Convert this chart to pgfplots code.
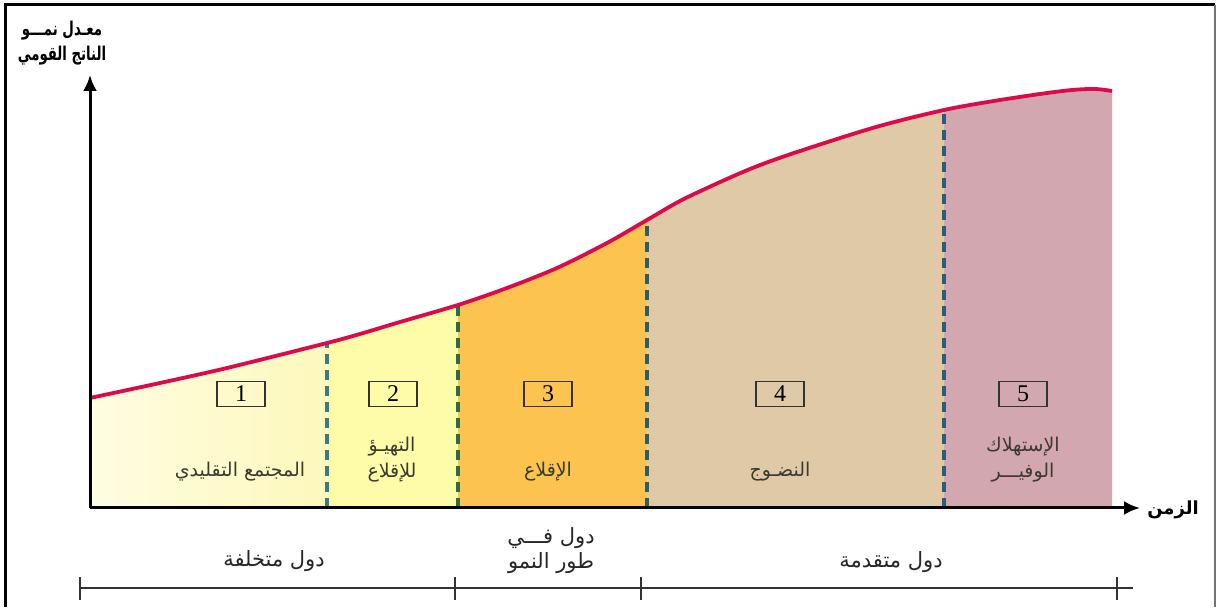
\documentclass[border=0pt]{standalone}
\usepackage{graphicx}
\usepackage{pgfplots}
\pgfplotsset{compat=1.18}
\usepackage{pgfplotstable}
\usepgfplotslibrary{fillbetween}
\usetikzlibrary{arrows.meta}
\usepackage{fontspec}
\setmainfont{Liberation Serif}
\newfontfamily\arabicfont[Script=Arabic]{DejaVu Sans}
\TeXXeTstate=1

\definecolor{stageA1}{HTML}{FFFDE2}
\definecolor{stageA2}{HTML}{FDF8BC}
\definecolor{stageB}{HTML}{FEFCA8}
\definecolor{stageC}{HTML}{FCC34E}
\definecolor{stageD}{HTML}{DFC9A6}
\definecolor{stageE}{HTML}{D2A7B0}
\definecolor{curvecol}{HTML}{DC0A4A}
\definecolor{dashA}{HTML}{3A7A86}
\definecolor{dashB}{HTML}{2E6B3E}
\definecolor{dashC}{HTML}{2E5E62}
\definecolor{dashD}{HTML}{2F5A80}
\definecolor{labeltext}{HTML}{3A3A2E}

% growth of national product over time (Rostow stages)
\pgfplotstableread{
t g
0 110
70 125
137 140
237 165
270 174
310 186
368 203
417 220
467 240
517 265
557 288
590 307
628 325
665 341
707 356
786 381
854 398
904 407
950 414
982 418
1005 419
1022 417
}\growth

\tikzset{stagebox/.style={draw=black!80, line width=0.9pt, minimum width=24pt,
  minimum height=12.5pt, inner sep=0pt, font=\fontsize{12}{12}\selectfont}}

\begin{document}
\begin{tikzpicture}
\begin{axis}[x=0.5pt, y=0.5pt, xmin=-90, xmax=1127, ymin=-99, ymax=508,
  hide axis, clip=false]
  \addplot[draw=none, name path=base, forget plot] coordinates {(0,0) (1022,0)};
  \addplot[draw=none, smooth, name path=curve, forget plot] table[x=t, y=g] {\growth};

  % stage areas
  \addplot[left color=stageA1, right color=stageA2, draw=none] fill between[of=curve and base, soft clip={domain=0:237}];
  \addplot[fill=stageB, draw=none] fill between[of=curve and base, soft clip={domain=237:368}];
  \addplot[fill=stageC, draw=none] fill between[of=curve and base, soft clip={domain=368:557}];
  \addplot[fill=stageD, draw=none] fill between[of=curve and base, soft clip={domain=557:854}];
  \addplot[fill=stageE, draw=none] fill between[of=curve and base, soft clip={domain=854:1022}];

  % stage boundaries
  \addplot[dashA, line width=1.8pt, dash pattern=on 5pt off 3pt] coordinates {(237,0) (237,165)};
  \addplot[dashB, line width=1.8pt, dash pattern=on 5pt off 3pt] coordinates {(368,0) (368,203)};
  \addplot[dashC, line width=1.8pt, dash pattern=on 5pt off 3pt] coordinates {(557,0) (557,288)};
  \addplot[dashD, line width=1.8pt, dash pattern=on 5pt off 3pt] coordinates {(854,0) (854,398)};

  % growth curve
  \addplot[curvecol, line width=1.9pt, smooth] table[x=t, y=g] {\growth};

  % axes
  \draw[line width=1.5pt, -{Latex[length=8pt, width=7pt]}] (axis cs:0,0) -- (axis cs:0,433);
  \draw[line width=1.5pt, -{Latex[length=8pt, width=7pt]}] (axis cs:0,0) -- (axis cs:1050,0);
  \node[font=\arabicfont\bfseries\fontsize{9}{11}\selectfont] at (axis cs:1083,-2) {\beginR الزمن\endR};
  \node[font=\arabicfont\bfseries\fontsize{9.5}{12.5}\selectfont, align=center] at (axis cs:-28,465)
    {\scalebox{0.7}[1]{\beginR معـدل نمـــو\endR}\\\scalebox{0.7}[1]{\beginR الناتج القومي\endR}};

  % stage numbers
  \node[stagebox] at (axis cs:151,114) {1};
  \node[stagebox] at (axis cs:303,114) {2};
  \node[stagebox] at (axis cs:458,114) {3};
  \node[stagebox] at (axis cs:690,114) {4};
  \node[stagebox] at (axis cs:933,114) {5};

  % stage names
  \begin{scope}[every node/.style={font=\arabicfont\fontsize{9.5}{13}\selectfont, text=labeltext, align=center}]
    \node at (axis cs:150,36) {\beginR المجتمع التقليدي\endR};
    \node at (axis cs:302,48) {\beginR التهيـؤ\endR\\\beginR للإقلاع\endR};
    \node at (axis cs:458,36) {\beginR الإقلاع\endR};
    \node at (axis cs:690,36) {\beginR النضـوج\endR};
    \node at (axis cs:933,48) {\beginR الإستهلاك\endR\\\beginR الوفيـــر\endR};
  \end{scope}

  % groups of countries
  \draw[black!80, line width=0.8pt] (axis cs:-10,-80) -- (axis cs:1043,-80);
  \draw[black!80, line width=0.8pt] (axis cs:-10,-69) -- (axis cs:-10,-92);
  \draw[black!80, line width=0.8pt] (axis cs:365,-69) -- (axis cs:365,-92);
  \draw[black!80, line width=0.8pt] (axis cs:551,-69) -- (axis cs:551,-92);
  \draw[black!80, line width=0.8pt] (axis cs:1027,-69) -- (axis cs:1027,-92);
  \begin{scope}[every node/.style={font=\arabicfont\fontsize{10.5}{12.5}\selectfont, text=black!85, align=center}]
    \node at (axis cs:184,-53) {\beginR دول متخلفة\endR};
    \node at (axis cs:461,-43) {\beginR دول فـــي\endR\\\beginR طور النمو\endR};
    \node at (axis cs:801,-54) {\beginR دول متقدمة\endR};
  \end{scope}

  % frame
  \draw[black, line width=1.5pt] (axis cs:-85,-99) -- (axis cs:-85,503) -- (axis cs:1125,503);
  \draw[black!55, line width=0.8pt] (axis cs:1125,503) -- (axis cs:1125,-99);
  \path (axis cs:-90,-99) rectangle (axis cs:1127,508);
\end{axis}
\end{tikzpicture}
\end{document}
